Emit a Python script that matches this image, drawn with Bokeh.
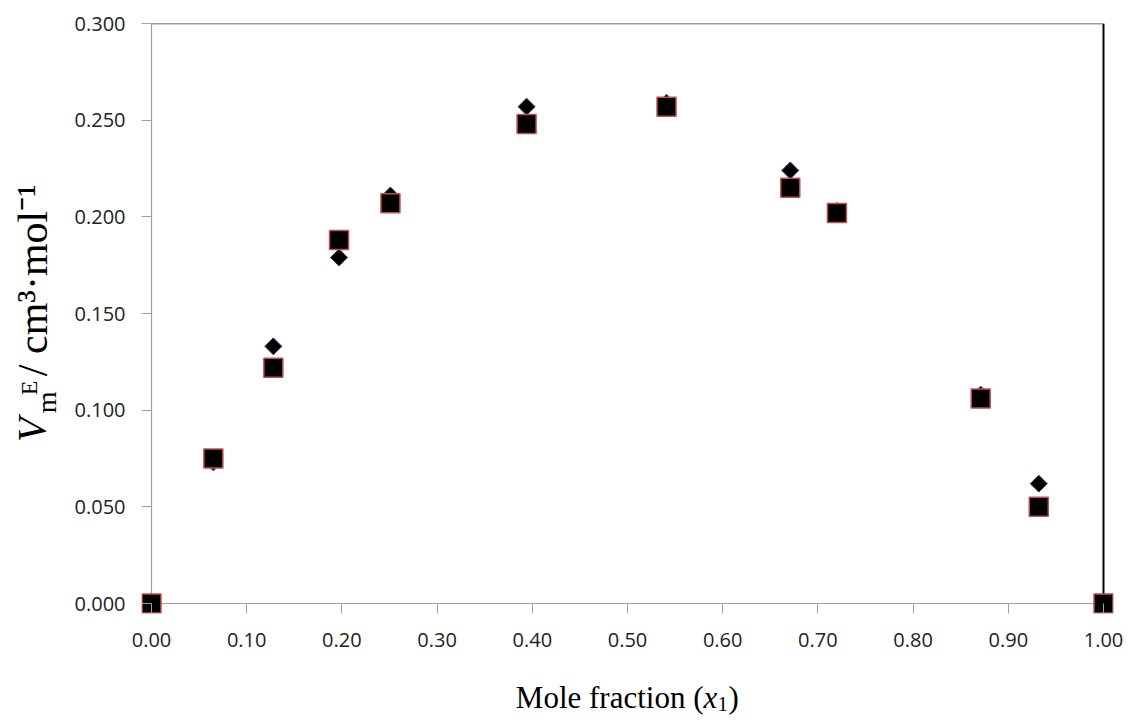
import math
from bokeh.plotting import figure
from bokeh.models import FixedTicker, NumeralTickFormatter, Label, Range1d
from bokeh.layouts import column, row
from bokeh.embed import file_html
from bokeh.resources import INLINE

# ---- data ----
mole_fraction = [0.000, 0.065, 0.128, 0.197, 0.251, 0.394, 0.541, 0.671, 0.720, 0.871, 0.932, 1.000]
vme_diamond = [0.000, 0.073, 0.133, 0.179, 0.211, 0.257, 0.259, 0.224, 0.203, 0.108, 0.062, 0.000]
vme_square = [0.000, 0.075, 0.122, 0.188, 0.207, 0.248, 0.257, 0.215, 0.202, 0.106, 0.050, 0.000]
x_ticks = [0.0, 0.1, 0.2, 0.3, 0.4, 0.5, 0.6, 0.7, 0.8, 0.9, 1.0]
y_ticks = [0.000, 0.050, 0.100, 0.150, 0.200, 0.250, 0.300]

# ---- layout (page pixels) ----
TOTAL_W = 1125
YT_W = 68          # width of the y-title strip
MAIN_H = 662       # height of the main plot
XT_H = 56          # height of the x-title strip
X0_PAGE = 151      # page px of x = 0
Y0_PAGE = 603      # page px of y = 0
XPX = 952.0        # px per x unit
PLOT_H_PX = 580    # px from y=0 to y=0.3
PAD = 10           # frame padding outside the drawn axes (= tick length)

x0, x1 = x_ticks[0], x_ticks[-1]
y0, y1 = y_ticks[0], y_ticks[-1]
YPX = PLOT_H_PX / (y1 - y0)
MAIN_W = TOTAL_W - YT_W
left_in_main = X0_PAGE - YT_W
top_page = Y0_PAGE - PLOT_H_PX

p = figure(width=MAIN_W, height=MAIN_H, output_backend="svg", toolbar_location=None,
           x_range=(x0 - PAD / XPX, x1 + PAD / XPX),
           y_range=(y0 - PAD / YPX, y1),
           min_border_left=left_in_main - PAD,
           min_border_right=MAIN_W - (left_in_main + int(XPX) + PAD),
           min_border_top=top_page,
           min_border_bottom=MAIN_H - (Y0_PAGE + PAD),
           background_fill_color="white", border_fill_color="white")
p.outline_line_color = None
p.grid.visible = False

for ax in (p.xaxis[0], p.yaxis[0]):
    ax.axis_line_color = None
    ax.major_tick_in = PAD
    ax.major_tick_out = 0
    ax.minor_tick_line_color = None
    ax.major_tick_line_color = "#a0a0a0"
    ax.major_tick_line_width = 1
    ax.major_label_text_font = "Open Sans"
    ax.major_label_text_font_size = "20px"
    ax.major_label_text_color = "#222222"

p.xaxis.ticker = FixedTicker(ticks=x_ticks)
p.yaxis.ticker = FixedTicker(ticks=y_ticks)
p.xaxis.formatter = NumeralTickFormatter(format="0.00")
p.yaxis.formatter = NumeralTickFormatter(format="0.000")
p.xaxis.major_label_standoff = 19
p.yaxis.major_label_standoff = 16

# axis lines and plot-area border
p.line([x0, x1], [y0, y0], line_color="#a0a0a0", line_width=1.2)
p.line([x0, x0], [y0, y1], line_color="#a0a0a0", line_width=1.2)
p.line([x0, x1], [y1, y1], line_color="#404040", line_width=1.4)
p.line([x1, x1], [y0, y1], line_color="#000000", line_width=2)

# data markers
p.scatter(mole_fraction, vme_diamond, marker="square", angle=math.pi / 4, size=12,
          fill_color="black", line_color="#1f3864", line_width=1)
p.scatter(mole_fraction, vme_square, marker="square", size=19,
          fill_color="black", line_color="#c0504d", line_width=1.5)

# ---- title strips (pixel-coordinate figures holding the rich-text titles) ----
SERIF = "Liberation Serif"

def strip(w, h, x_off, y_off):
    f = figure(width=w, height=h, output_backend="svg", toolbar_location=None,
               x_range=Range1d(x_off, x_off + w), y_range=Range1d(y_off + h, y_off),
               x_axis_type=None, y_axis_type=None, min_border=0,
               background_fill_color="white", border_fill_color="white")
    f.outline_line_color = None
    f.grid.visible = False
    return f

def lab(f, px, py, text, size, style="normal", angle=0.0, align="left", baseline="alphabetic"):
    f.add_layout(Label(x=px, y=py, text=text, text_font=SERIF,
                       text_font_size=f"{size}px", text_font_style=style,
                       text_color="#000000", angle=angle, text_align=align,
                       text_baseline=baseline))

# y title: V_m^E / cm3·mol-1 (rotated, reading upwards)
ytitle = strip(YT_W, MAIN_H, 0, 0)
A = math.pi / 2
lab(ytitle, 31, 456, "V", 40, style="italic", angle=A, align="center", baseline="middle")
lab(ytitle, 46, 425, "m", 28, angle=A, align="center", baseline="middle")
lab(ytitle, 28, 409, "E", 24, angle=A, align="center", baseline="middle")
lab(ytitle, 32, 288, "/ cm³·mol⁻¹", 42, angle=A, align="center", baseline="middle")

# x title: Mole fraction (x1)
xtitle = strip(TOTAL_W, XT_H, 0, MAIN_H)
XB = 697
J = 703
lab(xtitle, J, XB, "Mole fraction (", 31, align="right")
lab(xtitle, J, XB, "x", 31, style="italic")
lab(xtitle, J + 14, XB + 6, "1", 21)
lab(xtitle, J + 25, XB, ")", 31)

layout = column(row(ytitle, p), xtitle)
open("out.html", "w").write(file_html(layout, INLINE))
